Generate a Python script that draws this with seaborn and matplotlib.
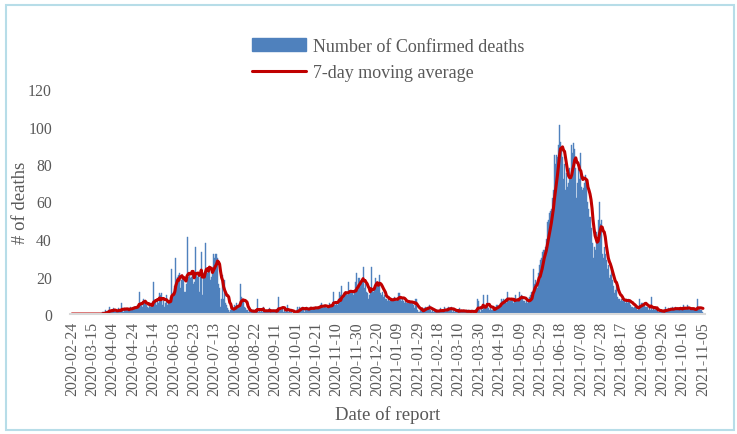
"""Daily confirmed deaths with 7-day moving average."""
import matplotlib
matplotlib.use("Agg")
import matplotlib.pyplot as plt
import seaborn as sns
import pandas as pd
from matplotlib.patches import Patch, Rectangle
from matplotlib.lines import Line2D

# daily deaths, one list per month
feb_2020 = [0, 0, 0, 0, 0, 0]
mar_2020 = [0, 0, 0, 0, 0, 0, 0, 0, 0, 0, 0, 0, 0, 0, 0, 0, 0, 0, 0, 0,
            0, 0, 0, 0, 1, 1, 0, 2, 1, 1, 2]
apr_2020 = [4, 1, 2, 1, 3, 2, 1, 2, 1, 3, 2, 2, 6, 2, 1, 3, 2, 3, 2, 3,
            4, 2, 3, 4, 4, 4, 3, 5, 4, 12]
may_2020 = [5, 6, 4, 8, 7, 6, 5, 4, 3, 5, 4, 6, 5, 17, 6, 7, 5, 8, 6, 11,
            10, 11, 5, 7, 4, 6, 10, 5, 7, 6, 9]
jun_2020 = [24, 10, 12, 15, 30, 18, 20, 21, 22, 14, 18, 21, 20, 12, 16, 41, 20, 22, 19, 20,
            21, 16, 17, 36, 22, 20, 21, 12, 20, 33]
jul_2020 = [10, 22, 20, 38, 24, 22, 24, 25, 18, 20, 22, 32, 30, 32, 32, 30, 16, 14, 4, 8,
            21, 8, 18, 6, 5, 3, 2, 1, 2, 3, 4]
aug_2020 = [3, 5, 4, 6, 3, 5, 6, 16, 9, 8, 4, 3, 2, 2, 1, 2, 1, 2, 1, 2,
            1, 2, 1, 8, 1, 2, 1, 2, 1, 4, 1]
sep_2020 = [1, 2, 1, 2, 3, 1, 2, 1, 2, 1, 2, 1, 3, 9, 2, 3, 2, 4, 1, 2,
            1, 2, 5, 1, 2, 1, 1, 0, 1, 1]
oct_2020 = [1, 2, 4, 2, 4, 3, 4, 2, 1, 3, 4, 3, 2, 3, 4, 3, 2, 4, 3, 4,
            3, 4, 3, 4, 5, 6, 4, 3, 5, 4, 3]
nov_2020 = [4, 4, 6, 5, 4, 6, 12, 5, 5, 6, 5, 8, 12, 10, 15, 9, 10, 12, 12, 11,
            10, 17, 12, 11, 11, 12, 10, 13, 17, 22]
dec_2020 = [15, 19, 16, 18, 17, 25, 14, 16, 12, 11, 8, 10, 12, 25, 13, 12, 14, 19, 17, 17,
            15, 21, 11, 10, 12, 9, 10, 8, 8, 7, 8]
jan_2021 = [7, 8, 7, 8, 8, 9, 8, 7, 8, 11, 11, 8, 7, 8, 7, 6, 7, 6, 6, 7,
            6, 7, 6, 6, 5, 3, 8, 2, 1, 1, 2]
feb_2021 = [2, 3, 1, 3, 4, 3, 4, 3, 5, 2, 1, 2, 1, 2, 1, 2, 2, 1, 2, 3,
            1, 2, 1, 4, 2, 2, 3, 4]
mar_2021 = [3, 2, 4, 1, 2, 1, 2, 1, 2, 1, 3, 1, 2, 1, 2, 1, 1, 2, 1, 2,
            1, 1, 2, 1, 1, 2, 1, 8, 7, 2, 1]
apr_2021 = [3, 2, 10, 4, 3, 4, 10, 3, 2, 3, 2, 2, 3, 2, 4, 5, 5, 4, 5, 6,
            8, 7, 8, 7, 8, 6, 12, 8, 7, 7]
may_2021 = [8, 7, 6, 7, 10, 7, 8, 7, 12, 9, 10, 8, 7, 7, 6, 7, 6, 8, 9, 10,
            12, 24, 16, 18, 15, 14, 22, 26, 29, 30, 33]
jun_2021 = [34, 34, 36, 40, 49, 50, 54, 55, 56, 62, 66, 85, 80, 85, 84, 90, 101, 92, 88, 84,
            72, 80, 66, 75, 68, 70, 78, 72, 90, 86]
jul_2021 = [91, 88, 78, 62, 70, 78, 72, 86, 68, 66, 67, 70, 74, 69, 60, 56, 52, 46, 38, 30,
            36, 34, 44, 40, 50, 60, 48, 50, 32, 30, 36]
aug_2021 = [32, 29, 24, 26, 19, 21, 24, 18, 15, 11, 13, 16, 9, 8, 8, 7, 8, 7, 8, 7,
            6, 8, 6, 8, 7, 5, 4, 4, 3, 4, 4]
sep_2021 = [3, 2, 3, 8, 5, 6, 6, 5, 6, 4, 4, 2, 3, 2, 9, 2, 3, 2, 3, 2,
            2, 1, 2, 1, 2, 1, 2, 1, 4, 2]
oct_2021 = [2, 3, 2, 3, 2, 4, 2, 3, 4, 2, 3, 2, 3, 4, 2, 3, 5, 2, 3, 2,
            5, 3, 2, 3, 2, 3, 2, 3, 2, 3, 8]
nov_2021 = [2, 3, 2, 2, 1]

months = [feb_2020, mar_2020, apr_2020, may_2020, jun_2020, jul_2020, aug_2020,
          sep_2020, oct_2020, nov_2020, dec_2020, jan_2021, feb_2021, mar_2021,
          apr_2021, may_2021, jun_2021, jul_2021, aug_2021, sep_2021, oct_2021, nov_2021]
deaths = [v for m in months for v in m]

dates = pd.date_range("2020-02-24", "2021-11-05", freq="D")
df = pd.DataFrame({"date": dates.strftime("%Y-%m-%d"), "deaths": deaths})
df["pos"] = range(len(df))
df["ma7"] = df["deaths"].rolling(7, min_periods=1).mean()

sns.set_theme(style="white")
plt.rcParams["font.family"] = ["Liberation Serif", "DejaVu Serif"]
grey = "#595959"
blue = "#4F81BD"

fig = plt.figure(figsize=(7.37, 4.35), dpi=100)
ax = fig.add_axes([70 / 737, 1 - 315 / 435, 635 / 737, 225 / 435])

sns.barplot(data=df, x="pos", y="deaths", native_scale=True, color=blue,
            saturation=1, width=1.0, linewidth=0.3, edgecolor=blue,
            errorbar=None, ax=ax)
sns.lineplot(data=df, x="pos", y="ma7", color="#C00000", linewidth=2.2, ax=ax)

ax.set_xlim(-2, 622)
ax.set_ylim(0, 120)
ax.set_yticks(range(0, 121, 20))
ax.set_xticks(df["pos"][::20])
ax.set_xticklabels(df["date"][::20], rotation=90)
ax.tick_params(axis="both", length=0, labelsize=11.3, colors=grey)
ax.tick_params(axis="y", pad=13)
ax.tick_params(axis="x", pad=5)

for s in ["top", "right", "left"]:
    ax.spines[s].set_visible(False)
ax.spines["bottom"].set_color("#D9D9D9")
ax.spines["bottom"].set_linewidth(1.5)

ax.set_xlabel("Date of report", fontsize=13.5, color=grey, labelpad=7)
ax.set_ylabel("# of deaths", fontsize=13.5, color=grey)
ax.yaxis.set_label_coords(-0.065, 0.5)

handles = [Patch(color=blue), Line2D([], [], color="#C00000", linewidth=2.2)]
fig.legend(handles, ["Number of Confirmed deaths", "7-day moving average"],
           loc="center", bbox_to_anchor=(0.527, 0.861), frameon=False,
           fontsize=13, handlelength=3.0, handletextpad=0.4, labelspacing=0.5,
           labelcolor=grey)

# light frame around the chart area
fig.patches.append(Rectangle((6 / 737, 4 / 435), 728 / 737, 425 / 435,
                             transform=fig.transFigure, fill=False,
                             edgecolor="#B7DDE8", linewidth=1.5))

fig.savefig("out.png", dpi=100)
plt.close(fig)
